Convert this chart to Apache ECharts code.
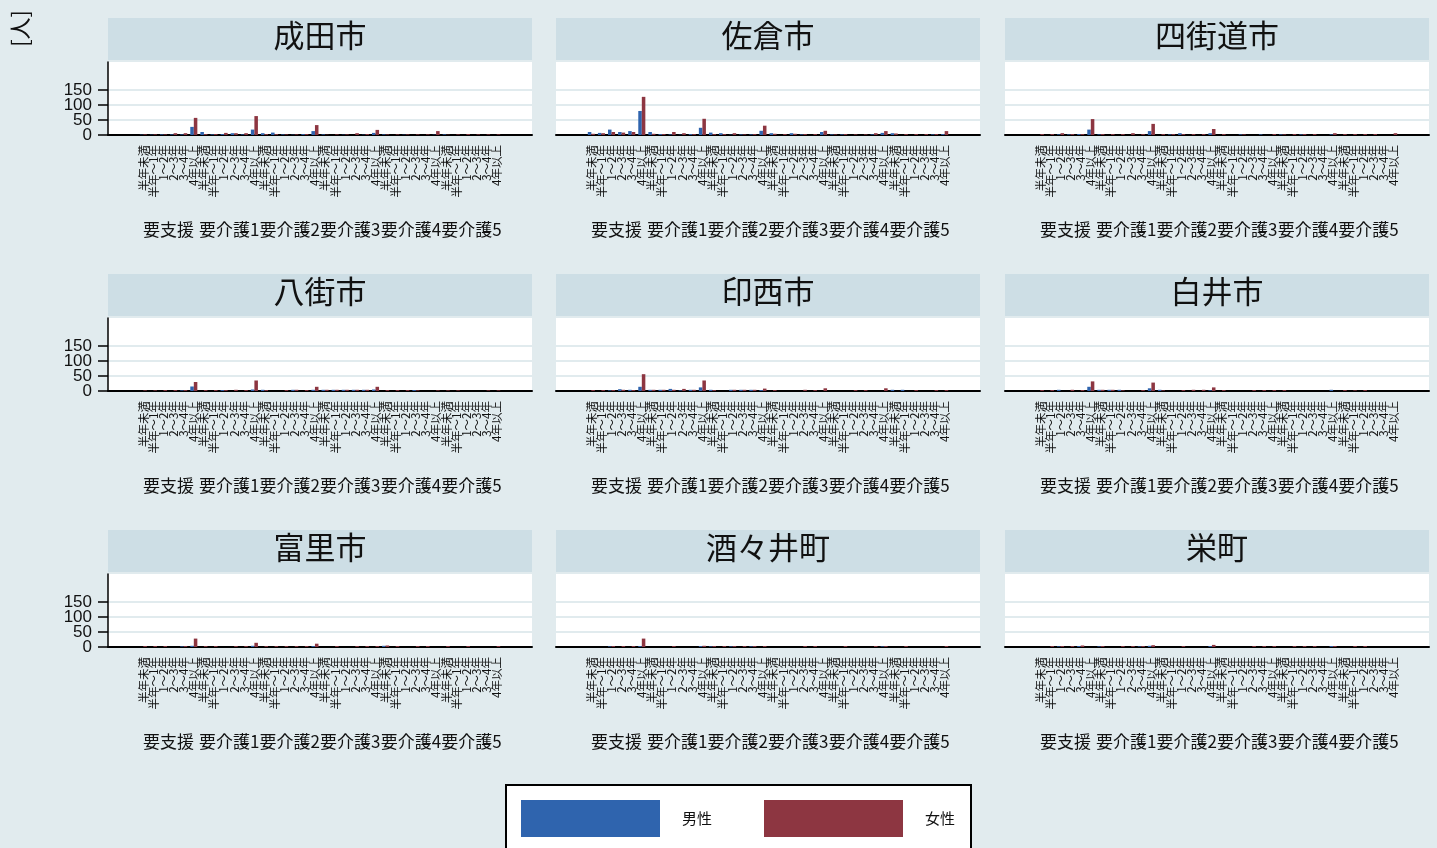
<!DOCTYPE html>
<html>
<head>
<meta charset="utf-8">
<script src="https://cdn.jsdelivr.net/npm/echarts@6/dist/echarts.min.js"></script>
<style>
html,body{margin:0;padding:0;background:#e1ebee;}
#chart{width:1437px;height:848px;}
</style>
</head>
<body>
<div id="chart"></div>
<script>
// ---- data ----
const durations = ['半年未満','半年～1年','1～2年','2～3年','3～4年','4年以上'];
const levels = ['要支援','要介護1','要介護2','要介護3','要介護4','要介護5'];
const cities = ['成田市','佐倉市','四街道市','八街市','印西市','白井市','富里市','酒々井町','栄町'];
const seriesNames = ['男性','女性'];
const yTicks = [0, 50, 100, 150];
const yTicksA = [0, 100];
const yTicksB = [50, 150];

// values per city: 6 levels x 6 durations (level-major)
const naritaMale   = [1,1,2,2,2,27, 10,2,3,6,2,18, 6,8,2,1,3,13, 2,0,1,0,1,7, 2,0,1,0,0,1, 2,0,0,0,0,0];
const naritaFemale = [2,2,2,6,6,57, 3,3,7,6,6,63, 3,3,2,2,3,33, 1,2,2,6,3,17, 2,2,2,2,2,13, 1,2,3,2,2,2];
const sakuraMale   = [10,7,18,10,13,80, 10,3,2,1,3,24, 8,6,1,2,2,14, 6,0,6,2,0,10, 2,2,0,0,2,7, 6,0,0,0,2,3];
const sakuraFemale = [4,6,10,8,10,127, 4,3,10,6,3,54, 3,3,6,2,3,31, 4,3,4,3,3,14, 2,3,2,2,6,13, 5,3,3,3,3,13];
const yotsukaidoMale   = [0,0,2,2,3,18, 2,0,0,0,0,13, 0,2,6,0,0,6, 0,0,2,0,2,0, 2,0,2,0,0,2, 0,0,0,0,0,0];
const yotsukaidoFemale = [3,3,6,3,3,53, 3,3,3,6,3,37, 3,3,3,3,3,20, 3,0,2,0,0,3, 2,3,3,3,0,6, 3,3,3,3,0,6];
const yachimataMale   = [0,0,0,0,2,15, 0,0,3,0,0,5, 4,0,0,4,0,4, 4,4,4,4,4,5, 0,0,0,3,0,0, 0,0,0,0,0,0];
const yachimataFemale = [2,2,3,3,3,30, 3,3,3,4,3,35, 3,0,3,4,3,14, 4,4,4,4,4,14, 3,3,3,2,0,2, 2,2,0,0,2,2];
const inzaiMale   = [0,0,2,6,4,14, 4,4,7,2,4,12, 4,0,4,4,4,3, 0,0,0,0,0,0, 0,0,0,0,0,0, 4,4,0,0,0,0];
const inzaiFemale = [3,3,3,4,3,56, 4,4,4,7,4,35, 3,0,4,4,4,8, 3,0,0,4,3,9, 0,0,3,3,0,9, 0,0,3,0,3,3];
const shiroiMale   = [0,0,4,0,0,14, 4,4,4,0,0,9, 4,0,0,0,0,2, 0,0,0,0,0,0, 0,0,0,0,0,4, 0,0,0,0,0,0];
const shiroiFemale = [3,3,0,4,3,32, 4,4,2,0,3,28, 2,0,3,4,4,12, 3,0,0,3,3,3, 3,0,0,0,0,0, 3,2,3,0,0,0];
const tomisatoMale   = [0,0,0,0,2,4, 0,0,0,0,0,4, 0,0,0,0,0,3, 0,0,0,0,0,0, 4,0,0,0,0,0, 0,0,0,0,0,0];
const tomisatoFemale = [3,3,3,0,3,28, 3,3,0,3,3,14, 3,3,3,3,3,11, 0,3,0,3,3,3, 5,3,0,3,3,0, 3,0,3,0,0,3];
const shisuiMale   = [0,0,2,0,0,3, 0,0,0,0,0,3, 2,0,2,0,2,0, 0,0,0,0,0,0, 0,0,0,0,0,2, 0,0,0,0,0,0];
const shisuiFemale = [0,0,3,3,3,28, 0,0,3,0,0,4, 3,3,3,3,3,3, 0,0,0,3,3,0, 0,3,0,0,3,3, 0,3,0,0,0,3];
const sakaeMale   = [0,0,2,0,3,0, 2,0,0,0,2,4, 0,0,0,0,0,3, 0,0,0,0,0,0, 0,0,0,0,0,3, 0,0,0,0,0,0];
const sakaeFemale = [0,3,3,3,5,0, 3,0,3,3,3,6, 0,0,3,0,0,7, 0,0,0,3,3,3, 0,3,3,3,0,3, 0,3,3,0,0,0];

const maleData = [naritaMale, sakuraMale, yotsukaidoMale, yachimataMale, inzaiMale, shiroiMale, tomisatoMale, shisuiMale, sakaeMale];
const femaleData = [naritaFemale, sakuraFemale, yotsukaidoFemale, yachimataFemale, inzaiFemale, shiroiFemale, tomisatoFemale, shisuiFemale, sakaeFemale];

// ---- layout / style ----
const BG = '#e1ebee', HEAD = '#cddee5', GRIDC = '#e1ebee';
const BLUE = '#2f64ae', RED = '#8d3641';
const colLeft = [108, 556, 1005];
const rowTop = [62, 318, 574];
const W = 424, H = 73;
const YMAX = 243;
const PAD = 3; // empty category slots at each side (outer gap)
const CJK = '"Noto Sans CJK JP", "Noto Sans", sans-serif';

const pad = (arr, v) => Array(PAD).fill(v).concat(arr, Array(PAD).fill(v));
const fineCats = [];
levels.forEach(() => durations.forEach(d => fineCats.push(d)));
const fineAxisData = pad(fineCats, '');
const groupAxisData = [''].concat(levels, ['']);
const T = 'rgba(0,0,0,0)';

const grid = [], xAxis = [], yAxis = [], series = [], title = [];
cities.forEach((city, k) => {
  const r = Math.floor(k / 3), c = k % 3;
  grid.push({left: colLeft[c], top: rowTop[r], width: W, height: H,
    show: true, backgroundColor: '#fff', borderWidth: 0, containLabel: false});
  xAxis.push({
    type: 'category', gridIndex: k, data: fineAxisData, position: 'bottom',
    axisLine: {show: true, lineStyle: {color: '#000', width: 2}},
    axisTick: {show: false},
    axisLabel: {interval: 0, rotate: 90, fontSize: 11.5, margin: 10, color: '#111', fontFamily: CJK},
    splitLine: {show: false}
  });
  xAxis.push({
    type: 'category', gridIndex: k, data: groupAxisData, position: 'bottom',
    boundaryGap: false,
    axisLine: {show: false}, axisTick: {show: false},
    axisLabel: {interval: 0, fontSize: 17, margin: 86, color: '#111', fontFamily: CJK},
    splitLine: {show: false}
  });
});
// y axes: main one per grid (gridlines, axis line, labels 0/100), extra one in column 1 (labels 50/150)
const yAxisIndexOf = [];
cities.forEach((city, k) => {
  const c = k % 3;
  yAxisIndexOf.push(yAxis.length);
  yAxis.push({
    type: 'value', gridIndex: k, min: 0, max: YMAX, interval: 50, position: 'left',
    axisLine: {show: c === 0, lineStyle: {color: '#000', width: 1.5}},
    axisTick: {show: c === 0, length: 10, customValues: yTicks, lineStyle: {color: '#000', width: 1.5}},
    axisLabel: {show: c === 0, customValues: yTicksA,
      fontSize: 17, margin: 16, color: '#111', fontFamily: 'Liberation Sans, Arial'},
    splitLine: {show: true, lineStyle: {color: [GRIDC, GRIDC, GRIDC, GRIDC, T, T, T], width: 2}}
  });
  if (c === 0) {
    yAxis.push({
      type: 'value', gridIndex: k, min: 0, max: YMAX, interval: 50, position: 'left', offset: 0,
      axisLine: {show: false}, axisTick: {show: false}, splitLine: {show: false},
      axisLabel: {show: true, customValues: yTicksB,
        fontSize: 17, margin: 16, color: '#111', fontFamily: 'Liberation Sans, Arial'}
    });
  }
});
cities.forEach((city, k) => {
  const r = Math.floor(k / 3), c = k % 3;
  [maleData[k], femaleData[k]].forEach((vals, s) => {
    series.push({
      type: 'bar', name: seriesNames[s], xAxisIndex: 2 * k, yAxisIndex: yAxisIndexOf[k],
      data: pad(vals, null),
      barGap: '0%', barCategoryGap: '30%',
      itemStyle: {color: s === 0 ? BLUE : RED},
      emphasis: {disabled: true}, animation: false
    });
  });
  title.push({
    text: '{t|' + city + '}', left: colLeft[c], top: rowTop[r] - 40, padding: 0,
    textStyle: {rich: {t: {width: W, height: 34, lineHeight: 34, padding: [0, 0, 8, 0], align: 'center', verticalAlign: 'middle',
      backgroundColor: HEAD, fontSize: 31, fontWeight: 'normal', color: '#111', fontFamily: CJK}}}
  });
});

const chart = echarts.init(document.getElementById('chart'), null, {renderer: 'canvas'});
chart.setOption({
  backgroundColor: BG,
  animation: false,
  title: title,
  grid: grid, xAxis: xAxis, yAxis: yAxis, series: series,
  legend: {
    data: seriesNames, left: 506, top: 785,
    padding: [15, 16, 15, 15], itemWidth: 139, itemHeight: 37, itemGap: 52,
    icon: 'rect', backgroundColor: '#fff', borderColor: '#000', borderWidth: 2,
    textStyle: {fontSize: 15, color: '#111', fontFamily: CJK, padding: [0, 0, 0, 17]},
    selectedMode: false
  },
  graphic: [{
    type: 'text', left: 9, top: 10, rotation: Math.PI / 2,
    style: {text: '[人]', fontSize: 22, fill: '#111', fontFamily: CJK}
  }]
});
</script>
</body>
</html>
